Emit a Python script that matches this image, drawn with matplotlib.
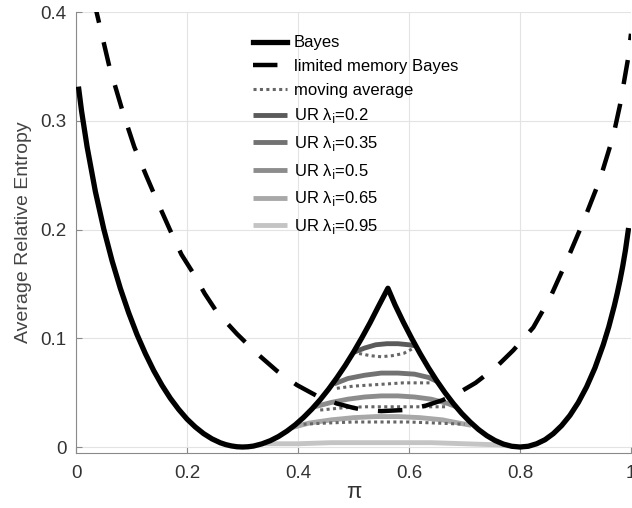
import numpy as np
import matplotlib
matplotlib.use("Agg")
import matplotlib.pyplot as plt

plt.rcParams['font.family'] = ['Liberation Sans', 'DejaVu Sans']

# Bayes
bayes_x = [0.005, 0.01, 0.02, 0.035, 0.05, 0.065, 0.08, 0.095, 0.11, 0.125, 0.14,
           0.155, 0.17, 0.185, 0.2, 0.215, 0.23, 0.245, 0.26, 0.27, 0.28, 0.29,
           0.3, 0.31, 0.32, 0.335, 0.35, 0.365, 0.38, 0.395, 0.41, 0.425, 0.44,
           0.455, 0.47, 0.485, 0.5, 0.515, 0.53, 0.545, 0.562, 0.575, 0.59,
           0.605, 0.62, 0.635, 0.65, 0.665, 0.68, 0.695, 0.71, 0.725, 0.74,
           0.755, 0.77, 0.785, 0.8, 0.815, 0.83, 0.845, 0.86, 0.875, 0.89,
           0.905, 0.92, 0.935, 0.95, 0.96, 0.97, 0.975, 0.98, 0.985, 0.99, 0.995]
bayes_y = [0.329, 0.309, 0.276, 0.2347, 0.2005, 0.1712, 0.1457, 0.1233, 0.1033,
           0.0859, 0.0703, 0.0567, 0.0448, 0.0346, 0.0257, 0.0184, 0.0123, 0.0075,
           0.0039, 0.0022, 0.001, 0.00025, 0.0, 0.00024, 0.0009, 0.0029, 0.0058,
           0.0097, 0.0146, 0.0204, 0.0272, 0.0349, 0.0435, 0.0531, 0.0636, 0.0749,
           0.0872, 0.1004, 0.1144, 0.1294, 0.146, 0.1305, 0.1146, 0.0998, 0.0859,
           0.0729, 0.0609, 0.0499, 0.0399, 0.0309, 0.0231, 0.0162, 0.0105, 0.006,
           0.0027, 0.0007, 0.0, 0.0007, 0.003, 0.0067, 0.0123, 0.0197, 0.0291,
           0.0409, 0.0553, 0.0727, 0.094, 0.1106, 0.13, 0.1409, 0.1528, 0.166,
           0.181, 0.199]

# limited memory Bayes
lmb_x = [0.03, 0.037, 0.06, 0.085, 0.105, 0.127, 0.148, 0.169, 0.19, 0.211, 0.232,
         0.254, 0.29, 0.326, 0.362, 0.398, 0.434, 0.47, 0.5, 0.52, 0.55, 0.59,
         0.63, 0.66, 0.69, 0.72, 0.758, 0.788, 0.824, 0.854, 0.884, 0.914, 0.944,
         0.968, 0.98, 0.995, 1.0]
lmb_y = [0.414, 0.4, 0.35, 0.307, 0.276, 0.249, 0.224, 0.2, 0.177, 0.16, 0.141,
         0.124, 0.104, 0.086, 0.07, 0.057, 0.047, 0.04, 0.036, 0.034, 0.033, 0.034,
         0.038, 0.043, 0.05, 0.059, 0.074, 0.089, 0.11, 0.137, 0.171, 0.207, 0.246,
         0.286, 0.314, 0.358, 0.38]

# UR curves
ur_lambdas = ['0.2', '0.35', '0.5', '0.65', '0.95']
ur_x = [
    [0.50, 0.52, 0.54, 0.56, 0.58, 0.60, 0.613],
    [0.465, 0.49, 0.52, 0.55, 0.58, 0.61, 0.635, 0.652],
    [0.43, 0.46, 0.49, 0.52, 0.55, 0.58, 0.61, 0.64, 0.67, 0.685],
    [0.39, 0.42, 0.46, 0.50, 0.54, 0.58, 0.62, 0.66, 0.69, 0.712],
    [0.34, 0.40, 0.46, 0.52, 0.58, 0.64, 0.70, 0.76, 0.78],
]
ur_y = [
    [0.087, 0.091, 0.094, 0.095, 0.095, 0.094, 0.093],
    [0.058, 0.063, 0.066, 0.068, 0.068, 0.067, 0.064, 0.060],
    [0.037, 0.041, 0.044, 0.046, 0.047, 0.047, 0.046, 0.044, 0.040, 0.037],
    [0.018, 0.022, 0.025, 0.027, 0.028, 0.028, 0.027, 0.025, 0.022, 0.020],
    [0.003, 0.003, 0.004, 0.004, 0.004, 0.004, 0.003, 0.002, 0.001],
]
ur_colors = ['#5a5a5a', '#727272', '#8c8c8c', '#a8a8a8', '#c4c4c4']

# moving averages
ma_x = [
    [0.51, 0.53, 0.55, 0.57, 0.59, 0.605],
    [0.47, 0.50, 0.53, 0.56, 0.59, 0.62, 0.64],
    [0.44, 0.48, 0.52, 0.56, 0.60, 0.64, 0.67],
    [0.41, 0.45, 0.50, 0.55, 0.60, 0.65, 0.70],
]
ma_y = [
    [0.086, 0.084, 0.083, 0.084, 0.086, 0.090],
    [0.054, 0.056, 0.057, 0.058, 0.059, 0.059, 0.059],
    [0.034, 0.036, 0.037, 0.037, 0.037, 0.037, 0.037],
    [0.021, 0.022, 0.023, 0.023, 0.023, 0.022, 0.021],
]

fig = plt.figure(figsize=(6.32, 5.08), dpi=100)
ax = fig.add_axes([76 / 632, 55 / 508, 555 / 632, 441 / 508])

ur_handles = []
for xs, ys, c, lam in zip(ur_x, ur_y, ur_colors, ur_lambdas):
    h, = ax.plot(xs, ys, color=c, lw=3.5, solid_capstyle='butt',
                 label='UR λ$_\\mathrm{i}$=' + lam, zorder=2)
    ur_handles.append(h)

ma_handle = None
for xs, ys in zip(ma_x, ma_y):
    ma_handle, = ax.plot(xs, ys, color='#666666', lw=2.2, ls=(0, (1, 1.1)),
                         label='moving average', zorder=3)

lmb_handle, = ax.plot(lmb_x, lmb_y, color='black', lw=3.2, ls=(0, (5.5, 4.5)),
                      label='limited memory Bayes', zorder=4)
bayes_handle, = ax.plot(bayes_x, bayes_y, color='black', lw=3.8,
                        label='Bayes', zorder=5)

ax.set_xlim(0, 1)
ax.set_ylim(-0.0055, 0.4)
ax.set_xticks([0, 0.2, 0.4, 0.6, 0.8, 1])
ax.set_xticklabels(['0', '0.2', '0.4', '0.6', '0.8', '1'])
ax.set_yticks([0, 0.1, 0.2, 0.3, 0.4])
ax.set_yticklabels(['0', '0.1', '0.2', '0.3', '0.4'])
ax.grid(True, color='#e3e3e3', lw=0.8)
ax.set_axisbelow(True)
for s in ['top', 'right']:
    ax.spines[s].set_visible(False)
for s in ['left', 'bottom']:
    ax.spines[s].set_color('#8a8a8a')
    ax.spines[s].set_linewidth(0.8)
ax.tick_params(direction='in', length=4, color='#8a8a8a', labelcolor='#333333',
               labelsize=13.5)
ax.tick_params(axis='x', pad=9)
ax.tick_params(axis='y', pad=7)

ax.set_xlabel('π', fontsize=16, color='#333333', labelpad=0)
ax.set_ylabel('Average Relative Entropy', fontsize=14, color='#444444', labelpad=6)

handles = [bayes_handle, lmb_handle, ma_handle] + ur_handles
leg = ax.legend(handles=handles, loc='upper left', bbox_to_anchor=(0.319, 0.947),
                frameon=False, fontsize=12, handlelength=2.05, handletextpad=0.38,
                labelspacing=0.52, borderaxespad=0, borderpad=0)

fig.savefig('out.png', dpi=100)
